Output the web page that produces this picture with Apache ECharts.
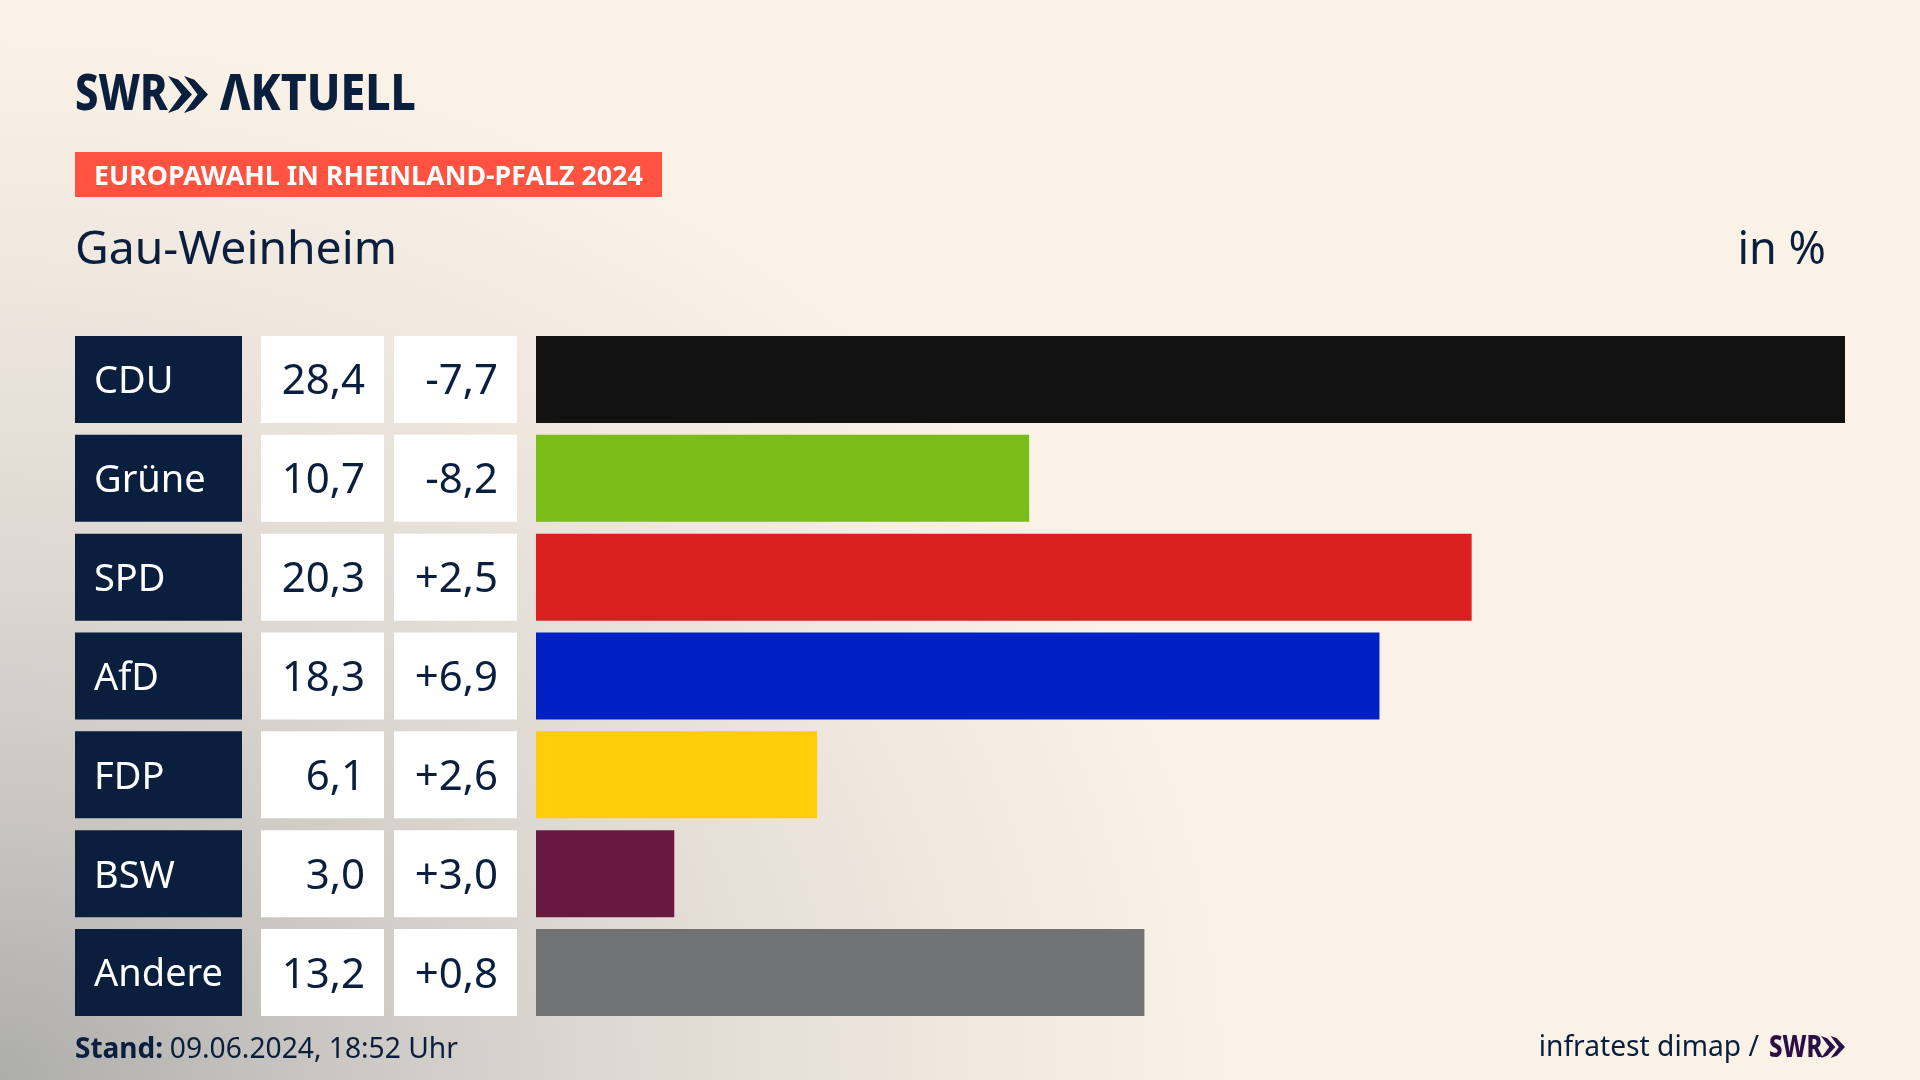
<!DOCTYPE html>
<html>
<head>
<meta charset="utf-8">
<title>Europawahl Gau-Weinheim</title>
<script src="https://cdn.jsdelivr.net/npm/echarts@6/dist/echarts.min.js"></script>
<style>
  html, body { margin: 0; padding: 0; }
  #chart {
    width: 1920px;
    height: 1080px;
    background: radial-gradient(ellipse 1250px 1060px at 0px 1080px, #adadab 0%, #c9c6c2 25%, #dfd9d3 50%, #efe7de 75%, #fbf2e7 100%), #fbf2e7;
  }
</style>
</head>
<body>
<div id="chart"></div>
<script>
const parties = ['CDU', 'Grüne', 'SPD', 'AfD', 'FDP', 'BSW', 'Andere'];
const shares = [28.4, 10.7, 20.3, 18.3, 6.1, 3.0, 13.2];
const changes = [-7.7, -8.2, 2.5, 6.9, 2.6, 3.0, 0.8];
const barColors = ['#121212', '#7abd19', '#d9201e', '#0020c4', '#ffcd0a', '#69193f', '#707273'];

const NAVY = '#0a1e3d';
const FONT = '"Noto Sans"';
const BAR_HEIGHT = 87;

function fmt(v) {
  return v.toFixed(1).replace('.', ',');
}
function fmtChange(v) {
  return (v > 0 ? '+' : '') + fmt(v);
}

// chevron pair of the SWR logo
function chevrons(x, y, w, h, color) {
  const one = w * 0.6;
  const t = w * 0.26;
  const arrow = function (ox) {
    return {
      type: 'polygon',
      shape: {
        points: [
          [ox, y], [ox + t, y + h * 0.1], [ox + one, y + h / 2],
          [ox + t, y + h * 0.9], [ox, y + h], [ox + one - t, y + h / 2]
        ]
      },
      style: { fill: color }
    };
  };
  return [arrow(x), arrow(x + w - one)];
}

function text(x, y, str, size, weight, color, align, scaleX) {
  return {
    type: 'text',
    x: x,
    y: y,
    scaleX: scaleX || 1,
    style: {
      text: str,
      fontFamily: FONT,
      fontSize: size,
      fontWeight: weight,
      fill: color,
      align: align || 'left',
      verticalAlign: 'middle'
    }
  };
}

// name / share / change cells in front of each bar
function renderCells(params, api) {
  const i = api.value(0);
  const mid = api.coord([0, i])[1];
  const top = mid - BAR_HEIGHT / 2;
  const cell = function (x, w, fill) {
    return { type: 'rect', shape: { x: x, y: top, width: w, height: BAR_HEIGHT }, style: { fill: fill } };
  };
  return {
    type: 'group',
    children: [
      cell(75, 167, NAVY),
      cell(261, 123, '#ffffff'),
      cell(394, 123, '#ffffff'),
      text(94, mid + 3, parties[i], 38, 400, '#ffffff'),
      text(365, mid + 3, fmt(shares[i]), 42, 400, NAVY, 'right'),
      text(498, mid + 3, fmtChange(changes[i]), 42, 400, NAVY, 'right')
    ]
  };
}

const chart = echarts.init(document.getElementById('chart'), null, { width: 1920, height: 1080 });

chart.setOption({
  animation: false,
  grid: { left: 536, top: 330, width: 1309, height: 692 },
  xAxis: { type: 'value', min: 0, max: 28.4, show: false },
  yAxis: { type: 'category', data: parties, inverse: true, show: false },
  series: [
    {
      type: 'bar',
      barWidth: BAR_HEIGHT,
      data: shares.map(function (v, i) {
        return { value: v, itemStyle: { color: barColors[i] } };
      })
    },
    {
      type: 'custom',
      clip: false,
      renderItem: renderCells,
      encode: { x: 1, y: 0 },
      data: parties.map(function (p, i) { return [i, 0]; })
    }
  ],
  graphic: [
    text(75, 96, 'SWR', 49, 800, NAVY, 'left', 0.85),
    text(220, 96, 'ΛKTUELL', 49, 800, NAVY, 'left', 0.91),
    ...chevrons(168, 76, 40, 37, NAVY),
    { type: 'rect', shape: { x: 75, y: 152, width: 587, height: 45 }, style: { fill: '#ff5240' } },
    text(94, 177, 'EUROPAWAHL IN RHEINLAND-PFALZ 2024', 26.8, 700, '#ffffff'),
    text(75, 251, 'Gau-Weinheim', 46.3, 400, NAVY),
    text(1826, 251, 'in %', 45, 400, NAVY, 'right'),
    {
      type: 'text',
      x: 75,
      y: 1050,
      style: {
        text: '{b|Stand:}  {r|09.06.2024, 18:52 Uhr}',
        verticalAlign: 'middle',
        rich: {
          b: { fontFamily: FONT, fontSize: 28, fontWeight: 700, fill: NAVY },
          r: { fontFamily: FONT, fontSize: 28.2, fontWeight: 400, fill: NAVY }
        }
      }
    },
    text(1759, 1048, 'infratest dimap /', 28.2, 400, NAVY, 'right'),
    text(1769, 1048, 'SWR', 30, 800, '#2c0f45', 'left', 0.8),
    ...chevrons(1821, 1036, 24, 22, '#2c0f45')
  ]
});
</script>
</body>
</html>
